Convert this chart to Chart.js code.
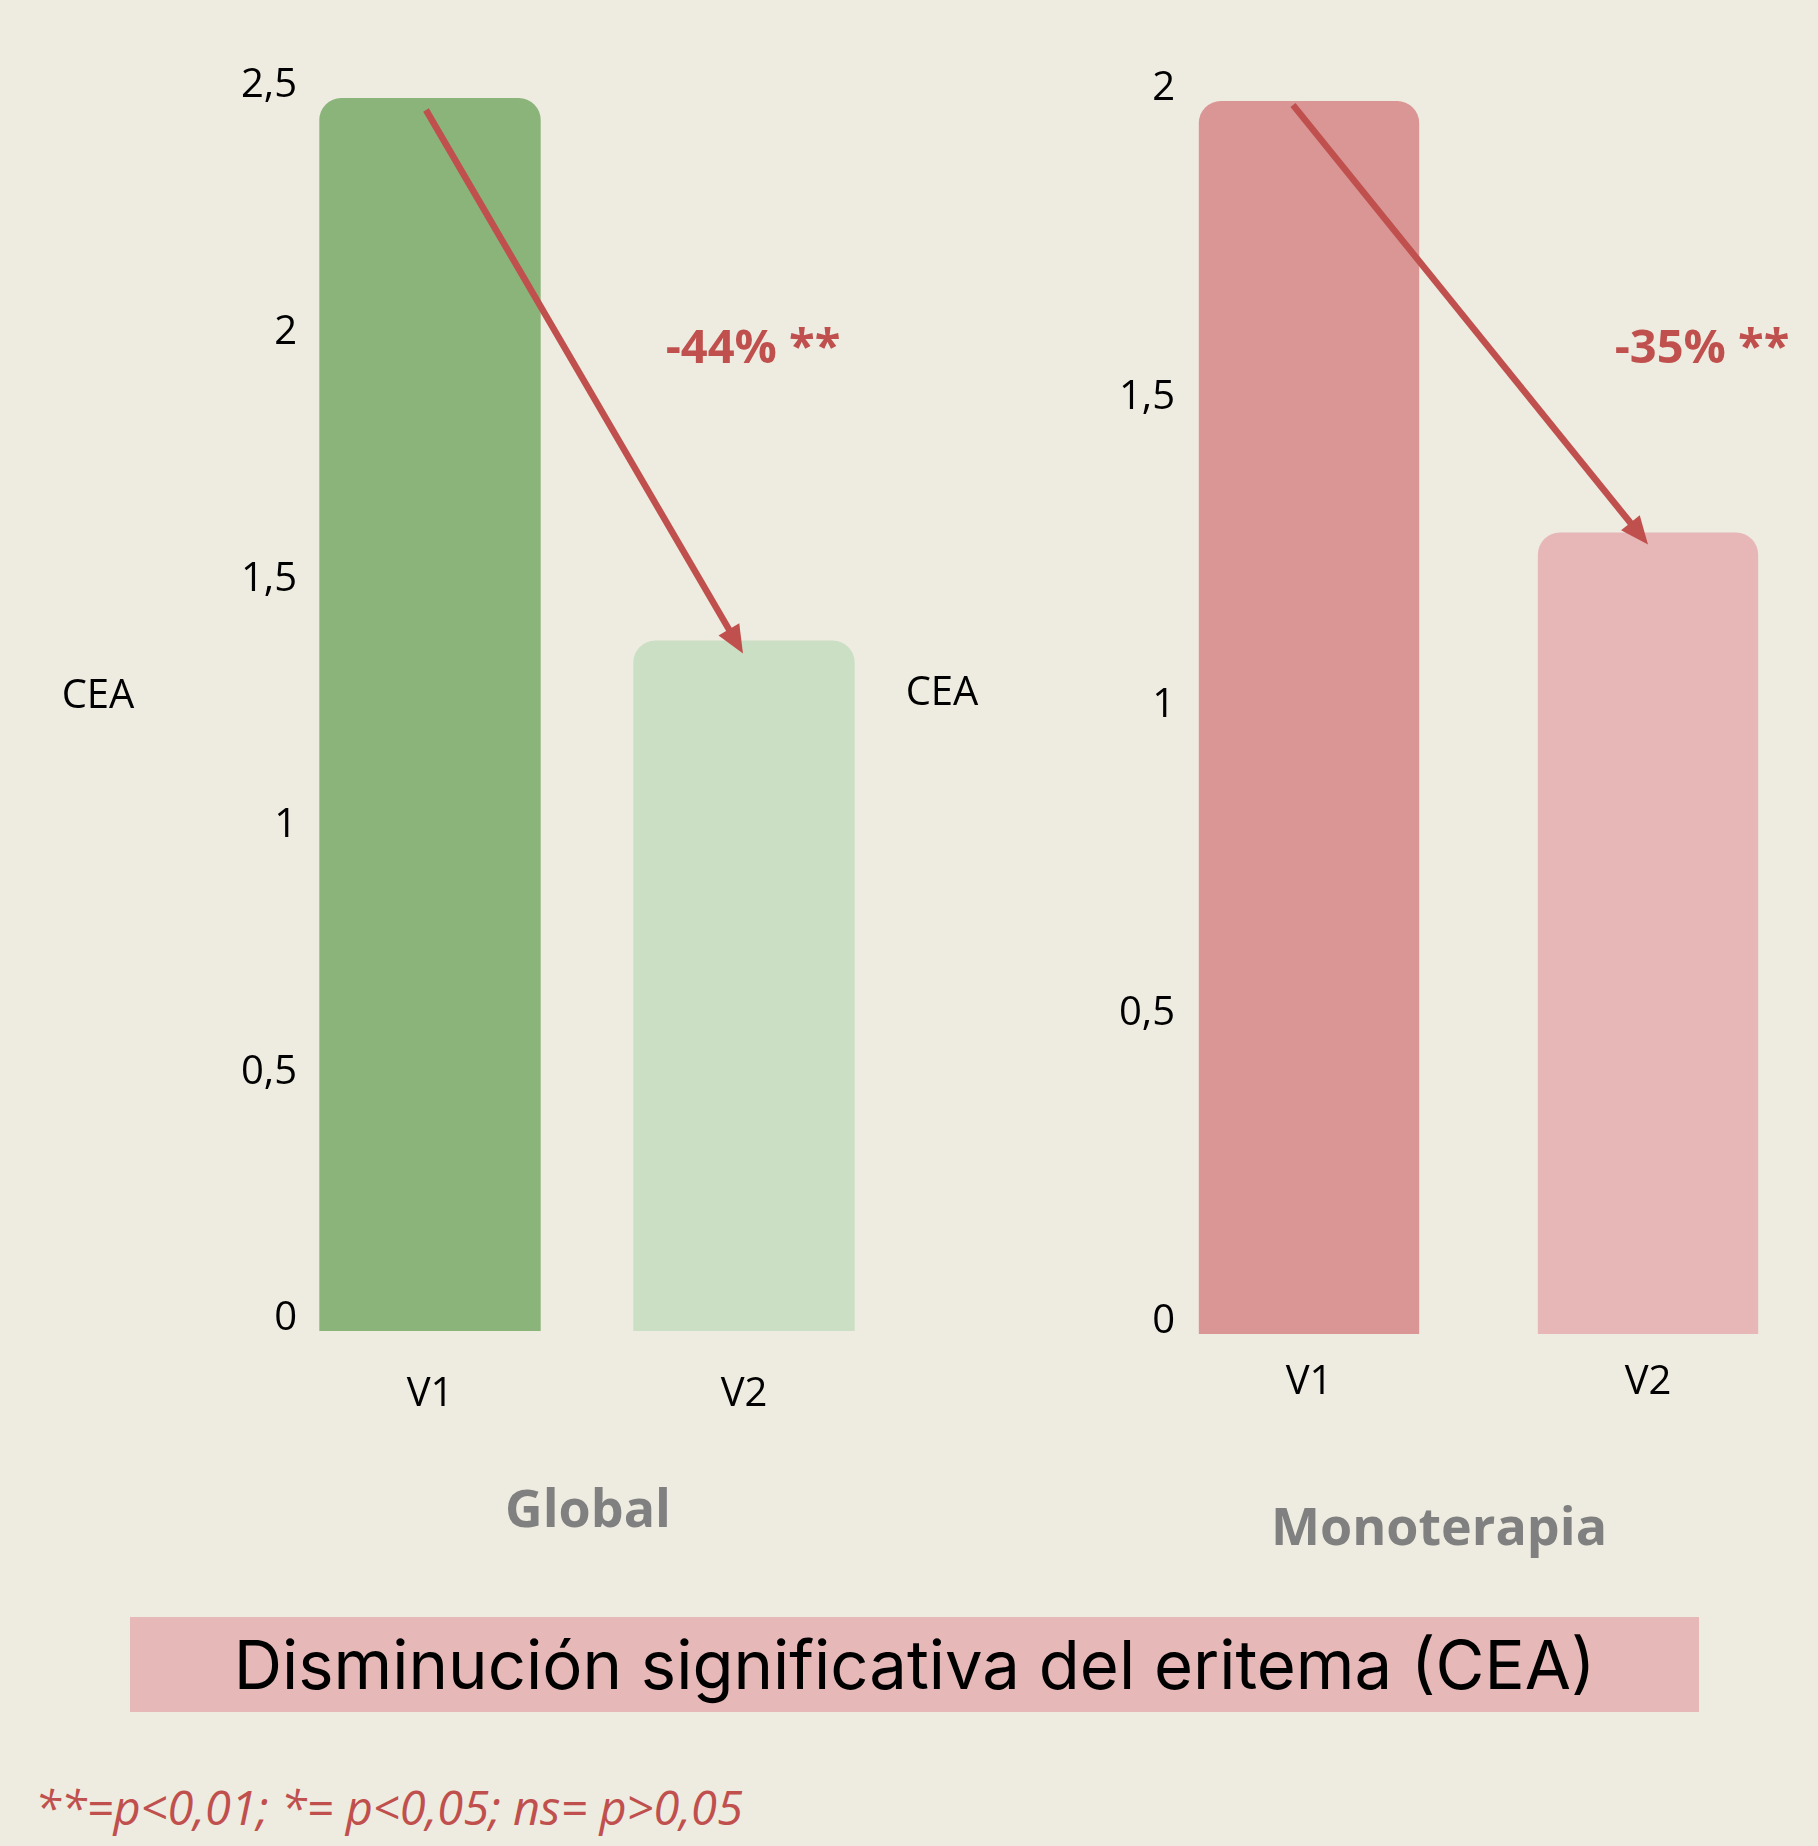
<!DOCTYPE html>
<html>
<head>
<meta charset="utf-8">
<script src="https://cdn.jsdelivr.net/npm/chart.js@4.4.1/dist/chart.umd.min.js"></script>
<style>
  html, body { margin: 0; padding: 0; }
  body { width: 1818px; height: 1846px; background: #eeebe0; position: relative; overflow: hidden; font-family: 'Open Sans', sans-serif; }
  .box { position: absolute; }
  .group { position: absolute; font-weight: 700; color: #808080; font-size: 52px; transform: translate(-50%, -50%); white-space: nowrap; }
  #banner { position: absolute; left: 130px; top: 1617px; width: 1569px; height: 95px; background: #e6b8b7;
            display: flex; align-items: center; justify-content: center; font-family: 'Inter', sans-serif; font-size: 67px; color: #000; }
  #note { position: absolute; left: 35px; top: 1807px; transform: translateY(-50%); font-style: italic; font-size: 47px; color: #c0504d; white-space: nowrap; }
</style>
</head>
<body>
<div class="box" style="left:0;top:0;width:910px;height:1440px"><canvas id="chartGlobal"></canvas></div>
<div class="box" style="left:880px;top:0;width:938px;height:1440px"><canvas id="chartMono"></canvas></div>
<div class="group" style="left:588px;top:1506px">Global</div>
<div class="group" style="left:1439px;top:1524px">Monoterapia</div>
<div id="banner">Disminución significativa del eritema (CEA)</div>
<div id="note">**=p&lt;0,01; *= p&lt;0,05; ns= p&gt;0,05</div>

<script>
var visits = ['V1', 'V2'];
var globalValues = [2.5, 1.4];
var monoValues = [2.0, 1.3];
var globalTicks = ['0', '0,5', '1', '1,5', '2', '2,5'];
var monoTicks = ['0', '0,5', '1', '1,5', '2'];
var globalChange = '-44% **';
var monoChange = '-35% **';

Chart.defaults.font.family = 'Open Sans';
Chart.defaults.color = '#000';

// y tick labels, arrow V1 -> V2, the % label and the horizontal "CEA"
var decor = {
  id: 'decor',
  afterDatasetsDraw(chart, args, opts) {
    var c = chart.ctx;
    var y = chart.scales.y;
    c.save();

    c.fillStyle = '#000';
    c.font = '40px "Open Sans"';
    c.textAlign = 'right';
    c.textBaseline = 'middle';
    y.ticks.forEach(function (t, i) {
      c.fillText(opts.ticks[i], opts.tickX, y.getPixelForValue(t.value) - 12);
    });
    c.textAlign = 'center';
    c.fillText('CEA', opts.axisX, opts.axisY);

    var bars = chart.getDatasetMeta(0).data;
    var x1 = bars[0].x + opts.startDx, y1 = bars[0].y + opts.startDy;
    var x2 = bars[1].x + opts.endDx, y2 = bars[1].y + opts.endDy;
    var ang = Math.atan2(y2 - y1, x2 - x1);
    var head = 28, half = 12;
    c.strokeStyle = '#c0504d';
    c.fillStyle = '#c0504d';
    c.lineWidth = 6.5;
    c.beginPath();
    c.moveTo(x1, y1);
    c.lineTo(x2 - Math.cos(ang) * head * 0.8, y2 - Math.sin(ang) * head * 0.8);
    c.stroke();
    c.beginPath();
    c.moveTo(x2, y2);
    c.lineTo(x2 - Math.cos(ang) * head - Math.sin(ang) * half, y2 - Math.sin(ang) * head + Math.cos(ang) * half);
    c.lineTo(x2 - Math.cos(ang) * head + Math.sin(ang) * half, y2 - Math.sin(ang) * head - Math.cos(ang) * half);
    c.closePath();
    c.fill();

    c.font = 'bold 47px "Open Sans"';
    c.fillText(opts.label, opts.labelX, opts.labelY);
    c.restore();
  }
};

function makeChart(id, values, colors, ticks, max, o) {
  o.decor.ticks = ticks;
  return new Chart(document.getElementById(id), {
    type: 'bar',
    data: {
      labels: visits,
      datasets: [{
        data: values,
        backgroundColor: colors,
        borderRadius: { topLeft: 22, topRight: 22, bottomLeft: 0, bottomRight: 0 },
        borderSkipped: false,
        barPercentage: o.barPct,
        categoryPercentage: 1
      }]
    },
    options: {
      responsive: true,
      maintainAspectRatio: false,
      animation: false,
      events: [],
      layout: { padding: { top: o.top, right: o.right, left: 0, bottom: 0 } },
      plugins: {
        legend: { display: false },
        tooltip: { enabled: false },
        decor: o.decor
      },
      scales: {
        x: {
          grid: { display: false, drawTicks: false },
          border: { display: false },
          ticks: { font: { size: 40 }, padding: o.xPad, color: '#000' },
          afterFit: function (s) { s.height = o.xHeight; }
        },
        y: {
          min: 0,
          max: max,
          grid: { display: false, drawTicks: false },
          border: { display: false },
          ticks: { stepSize: 0.5, display: false },
          afterFit: function (s) { s.width = o.yWidth; }
        }
      }
    },
    plugins: [decor]
  });
}

makeChart('chartGlobal', globalValues, ['#8ab479', '#cbdfc4'], globalTicks, 2.5, {
  barPct: 0.705, top: 98, right: 9, xPad: 40, xHeight: 109, yWidth: 273,
  decor: { tickX: 297, startDx: -4, startDy: 12, endDx: -1, endDy: 13, label: globalChange, labelX: 753, labelY: 350, axisX: 98, axisY: 697 }
});

makeChart('chartMono', monoValues, ['#da9595', '#e7b7b7'], monoTicks, 2, {
  barPct: 0.65, top: 101, right: 0.5, xPad: 25, xHeight: 106, yWidth: 259.5,
  decor: { tickX: 295, startDx: -16, startDy: 4, endDx: 0, endDy: 12, label: monoChange, labelX: 822, labelY: 350, axisX: 62, axisY: 694 }
});
</script>
</body>
</html>
